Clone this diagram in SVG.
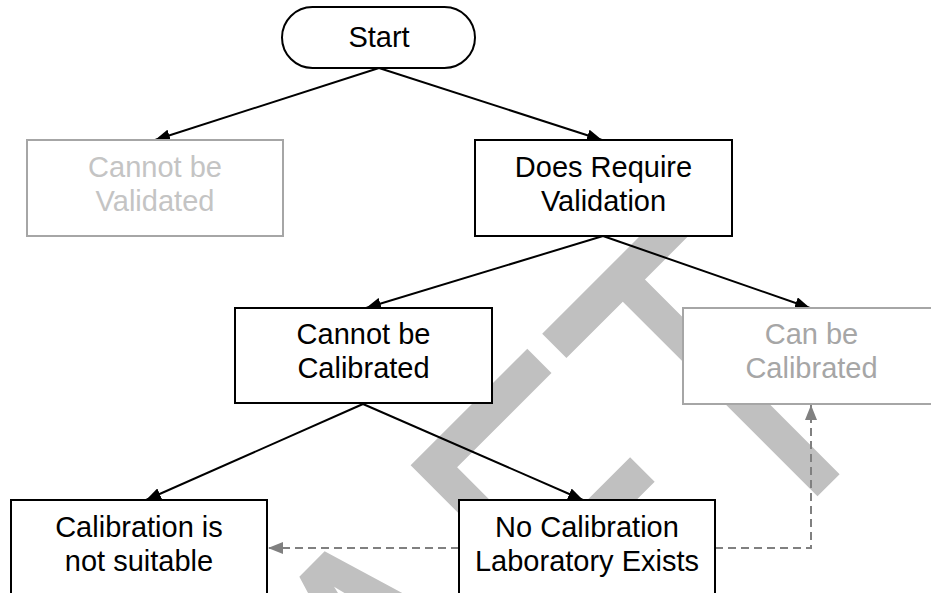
<svg xmlns="http://www.w3.org/2000/svg" width="931" height="593" viewBox="0 0 931 593">
<defs>
<style>
.box{fill:#fff;stroke:#000;stroke-width:2}
.gbox{fill:#fff;stroke:#a6a6a6;stroke-width:2}
.t{font-family:"Liberation Sans",Arial,sans-serif;font-size:29px;text-anchor:middle;fill:#000}
.tg1{fill:#c4c4c4}
.tg2{fill:#a6a6a6}
.c{fill:none;stroke:#000;stroke-width:2;marker-end:url(#ah)}
.d{fill:none;stroke:#808080;stroke-width:2;stroke-dasharray:8,5;marker-end:url(#ahg)}
.wm{font-family:"Liberation Sans",Arial,sans-serif;font-size:450px;fill:#c0c0c0}
</style>
<marker id="ah" markerUnits="userSpaceOnUse" markerWidth="15" markerHeight="12" refX="15" refY="6" orient="auto">
<path d="M0,0 L15,6 L0,12 z" fill="#000"/>
</marker>
<marker id="ahg" markerUnits="userSpaceOnUse" markerWidth="15" markerHeight="12" refX="15" refY="6" orient="auto">
<path d="M0,0 L15,6 L0,12 z" fill="#808080"/>
</marker>
</defs>
<rect width="931" height="593" fill="#fff"/>
<g id="watermark">
<text class="wm" transform="translate(106.1,1207.7) rotate(-45) scale(0.75,1)" x="0" y="0">DRAFT</text>
</g>
<g id="connectors">
<line class="c" x1="379" y1="68" x2="155" y2="140"/>
<line class="c" x1="379" y1="68" x2="602" y2="140"/>
<line class="c" x1="603" y1="236" x2="366" y2="308"/>
<line class="c" x1="603" y1="236" x2="810" y2="308"/>
<line class="c" x1="363" y1="404" x2="146" y2="500"/>
<line class="c" x1="363" y1="404" x2="583" y2="500"/>
<line class="d" x1="459" y1="548" x2="268" y2="548"/>
<polyline class="d" points="715,548 811,548 811,405"/>
</g>
<g id="start">
<rect class="box" x="282" y="7" width="193" height="61" rx="30.5" ry="30.5"/>
<text class="t" x="379" y="47">Start</text>
</g>
<g id="cannot-validated">
<rect class="gbox" x="27" y="140" width="256" height="96"/>
<text class="t tg1" x="155" y="177">Cannot be</text>
<text class="t tg1" x="155" y="211">Validated</text>
</g>
<g id="requires-validation">
<rect class="box" x="475" y="140" width="257" height="96"/>
<text class="t" x="603.5" y="177">Does Require</text>
<text class="t" x="603.5" y="211">Validation</text>
</g>
<g id="cannot-calibrated">
<rect class="box" x="235" y="308" width="257" height="95"/>
<text class="t" x="363.5" y="344">Cannot be</text>
<text class="t" x="363.5" y="378">Calibrated</text>
</g>
<g id="can-calibrated">
<rect class="gbox" x="683" y="308" width="257" height="96"/>
<text class="t tg2" x="811.5" y="344">Can be</text>
<text class="t tg2" x="811.5" y="378">Calibrated</text>
</g>
<g id="not-suitable">
<rect class="box" x="11" y="500" width="256" height="100"/>
<text class="t" x="139" y="537">Calibration is</text>
<text class="t" x="139" y="571">not suitable</text>
</g>
<g id="no-lab">
<rect class="box" x="459" y="500" width="256" height="100"/>
<text class="t" x="587" y="537">No Calibration</text>
<text class="t" x="587" y="571">Laboratory Exists</text>
</g>
</svg>
